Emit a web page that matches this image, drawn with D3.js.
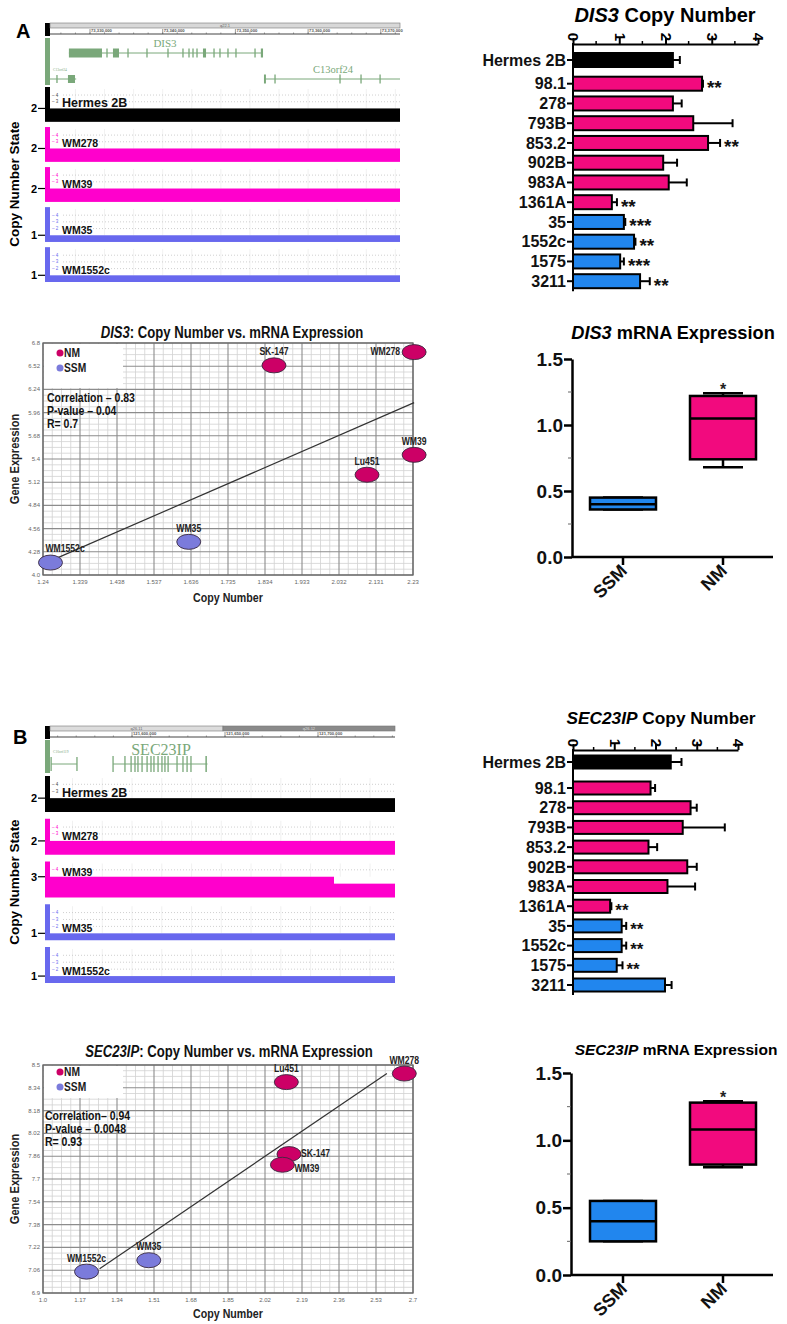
<!DOCTYPE html>
<html><head><meta charset="utf-8">
<script src="https://cdn.jsdelivr.net/npm/d3@7"></script>
<style>
body{margin:0;background:#fff;}
svg{display:block;}
</style></head><body>
<svg id="fig" width="787" height="1324"></svg>
<script>
// ================= DATA =================
// --- copy-number bar charts ---
const barCategories = ["Hermes 2B","98.1","278","793B","853.2","902B","983A","1361A","35","1552c","1575","3211"];
const barGroups     = ["ctrl","NM","NM","NM","NM","NM","NM","NM","SSM","SSM","SSM","SSM"];
const copyTicks     = [0,1,2,3,4];
const dis3CopyNumber = [2.16,2.79,2.16,2.60,2.92,1.95,2.07,0.84,1.10,1.32,1.02,1.45];
const dis3CopyError  = [0.15,0.02,0.19,0.85,0.26,0.30,0.39,0.11,0.03,0.03,0.08,0.21];
const dis3Signif     = ["","**","","","**","","","**","***","**","***","**"];
const sec23CopyNumber = [2.37,1.88,2.85,2.66,1.83,2.77,2.29,0.90,1.18,1.18,1.06,2.23];
const sec23CopyError  = [0.26,0.11,0.15,1.02,0.21,0.23,0.67,0.03,0.11,0.11,0.14,0.16];
const sec23Signif     = ["","","","","","","","**","**","**","**",""];

// --- mRNA box plots: [min, q1, median, q3, max] ---
const boxGroups = ["SSM","NM"];
const boxTicks  = [0,0.5,1.0,1.5];
const dis3BoxStats  = [[0.36,0.36,0.40,0.45,0.45],[0.68,0.74,1.05,1.22,1.24]];
const sec23BoxStats = [[0.25,0.25,0.40,0.55,0.55],[0.80,0.82,1.08,1.28,1.29]];

// --- scatter: copy number vs expression ---
const dis3Samples     = ["WM1552c","WM35","Lu451","SK-147","WM278","WM39"];
const dis3SampleGroup = ["SSM","SSM","NM","NM","NM","NM"];
const dis3SampleCopy  = [1.26,1.63,2.107,1.858,2.233,2.233];
const dis3SampleExpr  = [4.15,4.40,5.21,6.53,6.69,5.45];
const dis3LabelSide   = ["aboveRight","above","above","above","left","above"];
const dis3XTicks = ["1.24","1.339","1.438","1.537","1.636","1.735","1.834","1.933","2.032","2.131","2.23"];
const dis3YTicks = ["4.0","4.28","4.56","4.84","5.12","5.4","5.68","5.96","6.24","6.52","6.8"];
const dis3Fit    = [[1.26,4.17],[2.233,6.08]];
const dis3Stats  = ["Correlation – 0.83","P-value – 0.04","R= 0.7"];

const sec23Samples     = ["WM1552c","WM35","Lu451","SK-147","WM39","WM278"];
const sec23SampleGroup = ["SSM","SSM","NM","NM","NM","NM"];
const sec23SampleCopy  = [1.20,1.486,2.118,2.13,2.10,2.66];
const sec23SampleExpr  = [7.05,7.13,8.38,7.875,7.80,8.44];
const sec23LabelSide   = ["above","above","above","right","rightBelow","above"];
const sec23XTicks = ["1.0","1.17","1.34","1.51","1.68","1.85","2.02","2.19","2.36","2.53","2.7"];
const sec23YTicks = ["6.9","7.06","7.22","7.38","7.54","7.7","7.86","8.02","8.18","8.34","8.5"];
const sec23Fit    = [[1.26,7.07],[2.58,8.44]];
const sec23Stats  = ["Correlation– 0.94","P-value – 0.0048","R= 0.93"];

// --- genome browser tracks (positions in kb) ---
const trackNames  = ["Hermes 2B","WM278","WM39","WM35","WM1552c"];
const trackGroups = ["ctrl","NM","NM","SSM","SSM"];
const dis3TrackStates  = [2,2,2,1,1];
const sec23TrackStates = [2,2,3,1,1];
const dis3Domain  = [73324.5, 73372.64];
const dis3Ruler   = [73330,73340,73350,73360,73370];
const dis3Bands   = [[73324.5,73372.64]];
const dis3BandNames = ["q22.1"];
const dis3TrackSegments = [
  [[73324.5,73372.64,2]],[[73324.5,73372.64,2]],[[73324.5,73372.64,2]],
  [[73324.5,73372.64,1]],[[73324.5,73372.64,1]]];
const dis3GeneSpan  = [73327.1,73353.8];
const dis3GeneExons = [[73327.1,73331.65],[73332.34,73332.34],[73333.16,73333.99],[73335.23,73335.23],
  [73337.84,73337.84],[73340.73,73340.73],[73342.79,73342.79],[73343.62,73343.62],[73344.17,73344.17],
  [73344.72,73344.72],[73345.54,73345.96],[73347.06,73347.06],[73347.88,73347.88],[73348.98,73348.98],
  [73350.08,73350.08],[73352.7,73352.7],[73353.5,73353.8]];
const c13LeftSpan  = [73324.5,73328.1];
const c13LeftExons = [[73325.46,73325.46],[73326.97,73327.94]];
const c13RightSpan  = [73353.93,73372.64];
const c13RightExons = [[73353.93,73354.2],[73355.45,73355.6],[73364.39,73364.39],[73367.28,73367.45],[73369.9,73369.9]];

const sec23Domain = [121555.9,121741.4];
const sec23Ruler  = [121600,121650,121700];
const sec23Bands  = [[121555.9,121648.9],[121648.9,121741.4]];
const sec23BandNames = ["q26.11","q26.12"];
const sec23TrackSegments = [
  [[121555.9,121741.4,2]],[[121555.9,121741.4,2]],
  [[121555.9,121708.6,3],[121708.6,121741.4,2]],
  [[121555.9,121741.4,1]],[[121555.9,121741.4,1]]];
const sec23GeneSpan  = [121589.8,121640.6];
const sec23GeneExons = [[121589.8,121589.8],[121596.2,121596.2],[121599.5,121599.5],[121601.6,121601.6],
  [121603.2,121603.2],[121605.4,121605.4],[121608.1,121608.1],[121610.2,121610.2],[121611.8,121611.8],
  [121614.0,121614.0],[121616.1,121616.1],[121617.7,121617.7],[121619.4,121619.4],[121624.2,121624.2],
  [121627.4,121627.4],[121629.6,121629.6],[121631.7,121631.7],[121639.8,121640.6]];
const c10LeftSpan  = [121556.5,121570.4];
const c10LeftExons = [[121556.5,121556.5],[121570.4,121570.4]];

// ================= STYLE =================
const SANS = '"Liberation Sans",Arial,sans-serif';
const SERIF = '"Liberation Serif","Times New Roman",serif';
const barColors = {ctrl:"#000000", NM:"#f20a7e", SSM:"#2186ee"};
const trackColors = {ctrl:"#000000", NM:"#ff00cc", SSM:"#6868ee"};
const dotColors = {NM:"#cc0066", SSM:"#7b7bdb"};
const geneGreen = "#7aa87a";

const svg = d3.select("#fig");
svg.append("rect").attr("width",787).attr("height",1324).attr("fill","#fff");

// condensed bold text (horizontal squeeze of Liberation Sans)
function ntext(g, x, y, size, anchor, rot){
  return g.append("text")
    .attr("transform",`translate(${x},${y})${rot?` rotate(${rot})`:""} scale(0.82,1)`)
    .attr("text-anchor",anchor).attr("font-family",SANS).attr("font-weight","bold")
    .attr("font-size",size).attr("fill","#1a1a1a");
}

// ================= GENOME TRACKS =================
function drawGenome(cfg){
  const g = svg.append("g");
  const x = d3.scaleLinear().domain(cfg.domain).range([cfg.x0,cfg.x1]);
  g.append("text").attr("x",cfg.letterPos[0]).attr("y",cfg.letterPos[1])
    .attr("font-family",SANS).attr("font-weight","bold").attr("font-size",20).text(cfg.letter);
  const rt = cfg.rulerTop;
  g.append("rect").attr("x",cfg.x0-5).attr("y",rt).attr("width",5).attr("height",13).attr("fill","#000");
  cfg.bands.forEach((b,i)=>{
    g.append("rect").attr("x",x(b[0])).attr("y",rt).attr("width",x(b[1])-x(b[0])).attr("height",5)
      .attr("fill",cfg.bandFills[i]).attr("stroke","#777").attr("stroke-width",0.6);
    g.append("text").attr("x",(x(b[0])+x(b[1]))/2).attr("y",rt+4).attr("text-anchor","middle")
      .attr("font-family",SANS).attr("font-size",4).attr("fill",i?"#ddd":"#666").text(cfg.bandNames[i]);
  });
  g.append("line").attr("x1",cfg.x0).attr("x2",cfg.x1).attr("y1",rt+11).attr("y2",rt+11)
    .attr("stroke","#444").attr("stroke-width",1);
  const ms = cfg.minorStep;
  d3.range(Math.ceil(cfg.domain[0]/ms)*ms, cfg.domain[1], ms).forEach(t=>{
    g.append("line").attr("x1",x(t)).attr("x2",x(t)).attr("y1",rt+9.5).attr("y2",rt+11)
      .attr("stroke","#555").attr("stroke-width",0.6);
  });
  cfg.ruler.forEach(t=>{
    g.append("line").attr("x1",x(t)).attr("x2",x(t)).attr("y1",rt+6).attr("y2",rt+11).attr("stroke","#555").attr("stroke-width",0.6);
    g.append("text").attr("x",x(t)+1).attr("y",rt+9.3).attr("font-family",SANS).attr("font-weight","bold")
      .attr("font-size",4.2).attr("fill","#555").text(d3.format(",")(Math.round(t*1000)));
  });
  // gene area
  g.append("rect").attr("x",cfg.x0-5).attr("y",cfg.geneTop).attr("width",5).attr("height",cfg.geneH).attr("fill",geneGreen);
  cfg.genes.forEach(gn=>{
    g.append("line").attr("x1",x(gn.span[0])).attr("x2",x(gn.span[1])).attr("y1",gn.row).attr("y2",gn.row)
      .attr("stroke",geneGreen).attr("stroke-width",1);
    gn.exons.forEach(e=>{
      const w = Math.max(1.3, x(e[1])-x(e[0]));
      g.append("rect").attr("x",x(e[0])-(w<1.5?0.65:0)).attr("y",gn.row-gn.exonH/2).attr("width",w)
        .attr("height",gn.exonH).attr("fill",geneGreen);
    });
    if(gn.label) g.append("text").attr("x",gn.labelPos[0]).attr("y",gn.labelPos[1]).attr("text-anchor","middle")
      .attr("font-family",SERIF).attr("font-size",gn.labelSize).attr("fill",geneGreen).text(gn.label);
    if(gn.tiny) g.append("text").attr("x",gn.tinyPos[0]).attr("y",gn.tinyPos[1])
      .attr("font-family",SERIF).attr("font-size",3.6).attr("fill",geneGreen).text(gn.tiny);
  });
  // tracks
  const band = d3.scaleBand().domain(trackNames).range(cfg.trackRange).paddingInner(cfg.pad);
  trackNames.forEach((name,i)=>{
    const top = band(name), bot = top+band.bandwidth();
    const col = trackColors[trackGroups[i]];
    const v = d3.scaleLinear().domain([0,5.2]).range([bot,top]);
    const state = cfg.states[i];
    g.append("rect").attr("x",cfg.x0-5).attr("y",top).attr("width",5).attr("height",bot-top).attr("fill",col);
    // faint vertical guide lines
    d3.range(Math.ceil(cfg.domain[0]/cfg.guideStep)*cfg.guideStep, cfg.domain[1], cfg.guideStep).forEach(t=>{
      g.append("line").attr("x1",x(t)).attr("x2",x(t)).attr("y1",top+2).attr("y2",v(state))
        .attr("stroke","#eeeeee").attr("stroke-width",0.8);
    });
    [4,3,2].filter(l=>l>state).forEach(l=>{
      g.append("line").attr("x1",cfg.x0+13).attr("x2",cfg.x1).attr("y1",v(l)).attr("y2",v(l))
        .attr("stroke","#c4c4c4").attr("stroke-width",0.8).attr("stroke-dasharray","1,2");
      g.append("text").attr("x",cfg.x0+2).attr("y",v(l)+1.5).attr("font-family",SANS).attr("font-size",4.5)
        .attr("fill",i===0?"#444":col).text("– "+l);
    });
    cfg.segments[i].forEach(s=>{
      g.append("rect").attr("x",x(s[0])).attr("y",v(s[2])).attr("width",x(s[1])-x(s[0]))
        .attr("height",bot-v(s[2])).attr("fill",col);
    });
    g.append("text").attr("x",cfg.x0+12).attr("y",v(state)-1).attr("font-family",SANS).attr("font-weight","bold")
      .attr("font-size",i===0?12.5:10.5).attr("fill","#111").text(name);
    g.append("line").attr("x1",cfg.x0-12).attr("x2",cfg.x0-5).attr("y1",v(state)).attr("y2",v(state))
      .attr("stroke","#000").attr("stroke-width",1.2);
    g.append("text").attr("x",cfg.x0-13).attr("y",v(state)+4).attr("text-anchor","end")
      .attr("font-family",SANS).attr("font-weight","bold").attr("font-size",11).text(state);
  });
  g.append("text").attr("transform",`translate(19,${cfg.yTitleC}) rotate(-90)`).attr("text-anchor","middle")
    .attr("font-family",SANS).attr("font-weight","bold").attr("font-size",13.5).text("Copy Number State");
}

drawGenome({letter:"A",letterPos:[16,38],domain:dis3Domain,x0:50,x1:400,rulerTop:23,
  bands:dis3Bands,bandNames:dis3BandNames,bandFills:["#d8d8d8"],ruler:dis3Ruler,minorStep:2,guideStep:4,
  geneTop:38,geneH:47,
  genes:[
    {span:dis3GeneSpan,exons:dis3GeneExons,row:53,exonH:9,label:"DIS3",labelPos:[165,47],labelSize:11},
    {span:c13LeftSpan,exons:c13LeftExons,row:79,exonH:8,tiny:"C13orf24",tinyPos:[53,71]},
    {span:c13RightSpan,exons:c13RightExons,row:79,exonH:9,label:"C13orf24",labelPos:[333,73],labelSize:10.5}
  ],
  trackRange:[87,282],pad:0.13,states:dis3TrackStates,segments:dis3TrackSegments,yTitleC:184});

drawGenome({letter:"B",letterPos:[13,744],domain:sec23Domain,x0:50,x1:395,rulerTop:726,
  bands:sec23Bands,bandNames:sec23BandNames,bandFills:["#dcdcdc","#8a8a8a"],ruler:sec23Ruler,minorStep:10,guideStep:16,
  geneTop:740,geneH:33,
  genes:[
    {span:sec23GeneSpan,exons:sec23GeneExons,row:764,exonH:16,label:"SEC23IP",labelPos:[161,755],labelSize:16},
    {span:c10LeftSpan,exons:c10LeftExons,row:764,exonH:14,tiny:"C10orf119",tinyPos:[53,753]}
  ],
  trackRange:[776,983],pad:0.158,states:sec23TrackStates,segments:sec23TrackSegments,yTitleC:882});

// ================= BAR CHARTS =================
function drawBars(cfg){
  const g = svg.append("g");
  const x = d3.scaleLinear().domain([0,4]).range([cfg.x0,cfg.x1]);
  const y = d3.scaleLinear().domain([0,1]).range([cfg.yFirst,cfg.yFirst+cfg.step]);
  const slot = i => i===0?0:i+cfg.gap;
  const t = g.append("text").attr("x",cfg.titleX).attr("y",cfg.titleY).attr("text-anchor","middle")
    .attr("font-family",SANS).attr("font-weight","bold").attr("font-size",cfg.titleSize);
  t.append("tspan").attr("font-style","italic").text(cfg.gene);
  t.append("tspan").text(" Copy Number");
  const ax = g.append("g").attr("transform",`translate(0,${cfg.axisY})`)
    .call(d3.axisTop(x).tickValues(copyTicks).tickSize(6).tickSizeOuter(0).tickFormat(d3.format("d")));
  ax.select(".domain").attr("stroke","#000").attr("stroke-width",2);
  ax.selectAll(".tick line").attr("stroke","#000").attr("stroke-width",2);
  ax.selectAll(".tick text").attr("font-family",SANS).attr("font-weight","bold").attr("font-size",15).attr("fill","#000")
    .attr("x",0).attr("y",0).attr("dy","0.35em").attr("text-anchor","end").attr("transform","translate(0,-3) rotate(90)");
  [0.5,1.5,2.5,3.5].forEach(m=>{
    g.append("line").attr("x1",x(m)).attr("x2",x(m)).attr("y1",cfg.axisY).attr("y2",cfg.axisY-3)
      .attr("stroke","#000").attr("stroke-width",1.5);
  });
  const last = y(slot(barCategories.length-1));
  g.append("line").attr("x1",cfg.x0).attr("x2",cfg.x0).attr("y1",cfg.axisY-1).attr("y2",last+10)
    .attr("stroke","#000").attr("stroke-width",2);
  barCategories.forEach((c,i)=>{
    const yc = y(slot(i));
    const v = cfg.values[i], e = cfg.errors[i];
    g.append("line").attr("x1",cfg.x0-6).attr("x2",cfg.x0).attr("y1",yc).attr("y2",yc).attr("stroke","#000").attr("stroke-width",2);
    g.append("text").attr("x",cfg.x0-7).attr("y",yc).attr("dy","0.36em").attr("text-anchor","end")
      .attr("font-family",SANS).attr("font-weight","bold").attr("font-size",16).attr("fill","#111").text(c);
    g.append("line").attr("x1",x(v)).attr("x2",x(v+e)).attr("y1",yc).attr("y2",yc).attr("stroke","#000").attr("stroke-width",2);
    g.append("line").attr("x1",x(v+e)).attr("x2",x(v+e)).attr("y1",yc-4).attr("y2",yc+4).attr("stroke","#000").attr("stroke-width",2);
    g.append("rect").attr("x",cfg.x0).attr("y",yc-cfg.bh/2).attr("width",x(v)-cfg.x0).attr("height",cfg.bh)
      .attr("fill",barColors[barGroups[i]]).attr("stroke","#000").attr("stroke-width",2);
    if(cfg.signif[i]) g.append("text").attr("x",x(v+e)+4).attr("y",yc+cfg.starSize*0.55)
      .attr("font-family",SANS).attr("font-weight","bold").attr("font-size",cfg.starSize).attr("fill","#111").text(cfg.signif[i]);
  });
}
drawBars({gene:"DIS3",titleX:665,titleY:22,titleSize:20,x0:573,x1:758,axisY:44,yFirst:60,step:19.75,gap:0.2,bh:14,
  values:dis3CopyNumber,errors:dis3CopyError,signif:dis3Signif,starSize:19});
drawBars({gene:"SEC23IP",titleX:661,titleY:724,titleSize:17.3,x0:573,x1:738,axisY:750,yFirst:762,step:19.7,gap:0.32,bh:13,
  values:sec23CopyNumber,errors:sec23CopyError,signif:sec23Signif,starSize:17});

// ================= BOX PLOTS =================
function drawBox(cfg){
  const g = svg.append("g");
  const y = d3.scaleLinear().domain([0,1.5]).range([cfg.yBottom,cfg.yTop]);
  const x = d3.scalePoint().domain(boxGroups).range([cfg.xFirst,cfg.xLast]);
  const t = g.append("text").attr("x",cfg.titleX).attr("y",cfg.titleY).attr("text-anchor","middle")
    .attr("font-family",SANS).attr("font-weight","bold").attr("font-size",cfg.titleSize);
  t.append("tspan").attr("font-style","italic").text(cfg.gene);
  t.append("tspan").text(" mRNA Expression");
  const ay = g.append("g").attr("transform",`translate(${cfg.axisX},0)`)
    .call(d3.axisLeft(y).tickValues(boxTicks).tickSize(8).tickSizeOuter(0).tickFormat(d3.format(".1f")));
  ay.select(".domain").attr("stroke","#000").attr("stroke-width",2.5);
  ay.selectAll(".tick line").attr("stroke","#000").attr("stroke-width",2.5);
  ay.selectAll(".tick text").attr("font-family",SANS).attr("font-weight","bold").attr("font-size",19).attr("fill","#111").attr("x",-9);
  [0.25,0.75,1.25].forEach(m=>{
    g.append("line").attr("x1",cfg.axisX-4).attr("x2",cfg.axisX).attr("y1",y(m)).attr("y2",y(m)).attr("stroke","#666").attr("stroke-width",1);
  });
  g.append("line").attr("x1",cfg.axisX).attr("x2",cfg.axisEnd).attr("y1",cfg.yBottom).attr("y2",cfg.yBottom)
    .attr("stroke","#000").attr("stroke-width",2.5);
  boxGroups.forEach((grp,i)=>{
    const cx = x(grp), s = cfg.stats[i];
    g.append("line").attr("x1",cx).attr("x2",cx).attr("y1",cfg.yBottom).attr("y2",cfg.yBottom+8).attr("stroke","#000").attr("stroke-width",2.5);
    g.append("text").attr("transform",`translate(${cx+5},${cfg.yBottom+15}) rotate(-45)`).attr("text-anchor","end")
      .attr("font-family",SANS).attr("font-weight","bold").attr("font-size",18).attr("fill","#111").text(grp);
    g.append("line").attr("x1",cx).attr("x2",cx).attr("y1",y(s[0])).attr("y2",y(s[1])).attr("stroke","#000").attr("stroke-width",2.5);
    g.append("line").attr("x1",cx).attr("x2",cx).attr("y1",y(s[3])).attr("y2",y(s[4])).attr("stroke","#000").attr("stroke-width",2.5);
    [s[0],s[4]].forEach(v=>g.append("line").attr("x1",cx-cfg.capW/2).attr("x2",cx+cfg.capW/2).attr("y1",y(v)).attr("y2",y(v))
      .attr("stroke","#000").attr("stroke-width",2.5));
    g.append("rect").attr("x",cx-cfg.boxW/2).attr("y",y(s[3])).attr("width",cfg.boxW).attr("height",y(s[1])-y(s[3]))
      .attr("fill",barColors[grp]).attr("stroke","#000").attr("stroke-width",2.5);
    g.append("line").attr("x1",cx-cfg.boxW/2).attr("x2",cx+cfg.boxW/2).attr("y1",y(s[2])).attr("y2",y(s[2]))
      .attr("stroke","#000").attr("stroke-width",2.5);
    if(cfg.signif[i]) g.append("text").attr("x",cx).attr("y",y(s[4])-7+8.5).attr("text-anchor","middle")
      .attr("font-family",SANS).attr("font-weight","bold").attr("font-size",16).attr("fill","#222").text(cfg.signif[i]);
  });
}
drawBox({gene:"DIS3",titleX:673,titleY:339,titleSize:18.2,yTop:359,yBottom:557,axisX:572,axisEnd:773,
  xFirst:623,xLast:723,boxW:66,capW:40,stats:dis3BoxStats,signif:["","*"]});
drawBox({gene:"SEC23IP",titleX:676,titleY:1055,titleSize:15.5,yTop:1073,yBottom:1275,axisX:571,axisEnd:773,
  xFirst:623,xLast:723,boxW:66,capW:40,stats:sec23BoxStats,signif:["","*"]});

// ================= SCATTER =================
function drawScatter(cfg){
  const g = svg.append("g");
  const xv = cfg.xTicks.map(Number), yv = cfg.yTicks.map(Number);
  const x = d3.scaleLinear().domain(d3.extent(xv)).range([cfg.x0,cfg.x1]);
  const y = d3.scaleLinear().domain(d3.extent(yv)).range([cfg.y1,cfg.y0]);
  const minor = vals => vals.slice(0,-1).flatMap((v,i)=>[1,2,3].map(k=>v+(vals[i+1]-v)*k/4));
  minor(xv).forEach(v=>g.append("line").attr("x1",x(v)).attr("x2",x(v)).attr("y1",cfg.y0).attr("y2",cfg.y1).attr("stroke","#d2d2d2").attr("stroke-width",0.8));
  minor(yv).forEach(v=>g.append("line").attr("x1",cfg.x0).attr("x2",cfg.x1).attr("y1",y(v)).attr("y2",y(v)).attr("stroke","#d2d2d2").attr("stroke-width",0.8));
  xv.forEach(v=>g.append("line").attr("x1",x(v)).attr("x2",x(v)).attr("y1",cfg.y0).attr("y2",cfg.y1).attr("stroke","#8c8c8c").attr("stroke-width",1.1));
  yv.forEach(v=>g.append("line").attr("x1",cfg.x0).attr("x2",cfg.x1).attr("y1",y(v)).attr("y2",y(v)).attr("stroke","#8c8c8c").attr("stroke-width",1.1));
  g.append("rect").attr("x",cfg.x0).attr("y",cfg.y0).attr("width",cfg.x1-cfg.x0).attr("height",cfg.y1-cfg.y0)
    .attr("fill","none").attr("stroke","#666").attr("stroke-width",1.3);
  xv.forEach((v,i)=>g.append("text").attr("x",x(v)).attr("y",cfg.y1+9).attr("text-anchor","middle")
    .attr("font-family",SANS).attr("font-size",6).attr("fill","#666").text(cfg.xTicks[i]));
  yv.forEach((v,i)=>g.append("text").attr("x",cfg.x0-3).attr("y",y(v)+2).attr("text-anchor","end")
    .attr("font-family",SANS).attr("font-size",6).attr("fill","#666").text(cfg.yTicks[i]));
  // legend
  g.append("rect").attr("x",cfg.x0+1).attr("y",cfg.y0+1).attr("width",79).attr("height",cfg.legendH).attr("fill","#fff");
  ["NM","SSM"].forEach((k,i)=>{
    g.append("circle").attr("cx",cfg.x0+17).attr("cy",cfg.legendY+i*15-4).attr("r",3.5).attr("fill",dotColors[k]);
    ntext(g,cfg.x0+21,cfg.legendY+i*15,12.5,"start").text(k);
  });
  cfg.stats.forEach((s,i)=>ntext(g,cfg.statsX,cfg.statsY+i*13,12.8,"start").attr("fill","#111").text(s));
  g.append("line").attr("x1",x(cfg.fit[0][0])).attr("y1",y(cfg.fit[0][1])).attr("x2",x(cfg.fit[1][0])).attr("y2",y(cfg.fit[1][1]))
    .attr("stroke","#333").attr("stroke-width",1.2);
  cfg.samples.forEach((name,i)=>{
    g.append("ellipse").attr("cx",x(cfg.copy[i])).attr("cy",y(cfg.expr[i])).attr("rx",12).attr("ry",7.5)
      .attr("fill",dotColors[cfg.groups[i]]).attr("stroke","#3a2a40").attr("stroke-width",0.9);
  });
  const off = {above:[0,-10,"middle"],aboveRight:[-5,-11,"start"],left:[-14,3,"end"],right:[12,3,"start"],rightBelow:[12,7,"start"]};
  cfg.samples.forEach((name,i)=>{
    const px = x(cfg.copy[i]), py = y(cfg.expr[i]), o = off[cfg.sides[i]];
    ntext(g,px+o[0],py+o[1],10.5,o[2]).attr("fill","#222").text(name);
  });
  const t = ntext(g,cfg.titleX,cfg.titleY,16,"middle").attr("fill","#111");
  t.append("tspan").attr("font-style","italic").text(cfg.gene);
  t.append("tspan").text(": Copy Number vs. mRNA Expression");
  ntext(g,(cfg.x0+cfg.x1)/2,cfg.xLabelY,13,"middle").attr("fill","#222").text("Copy Number");
  ntext(g,19,(cfg.y0+cfg.y1)/2,13.5,"middle",-90).attr("fill","#222").text("Gene Expression");
}
drawScatter({gene:"DIS3",x0:43,x1:413,y0:343,y1:575,xTicks:dis3XTicks,yTicks:dis3YTicks,samples:dis3Samples,
  groups:dis3SampleGroup,copy:dis3SampleCopy,expr:dis3SampleExpr,sides:dis3LabelSide,fit:dis3Fit,stats:dis3Stats,
  legendH:44,legendY:357,statsX:47,statsY:402,titleX:232,titleY:338,xLabelY:602});
drawScatter({gene:"SEC23IP",x0:43,x1:413,y0:1065,y1:1293,xTicks:sec23XTicks,yTicks:sec23YTicks,samples:sec23Samples,
  groups:sec23SampleGroup,copy:sec23SampleCopy,expr:sec23SampleExpr,sides:sec23LabelSide,fit:sec23Fit,stats:sec23Stats,
  legendH:32,legendY:1076,statsX:45,statsY:1120,titleX:229,titleY:1057,xLabelY:1318});
</script>
</body></html>
